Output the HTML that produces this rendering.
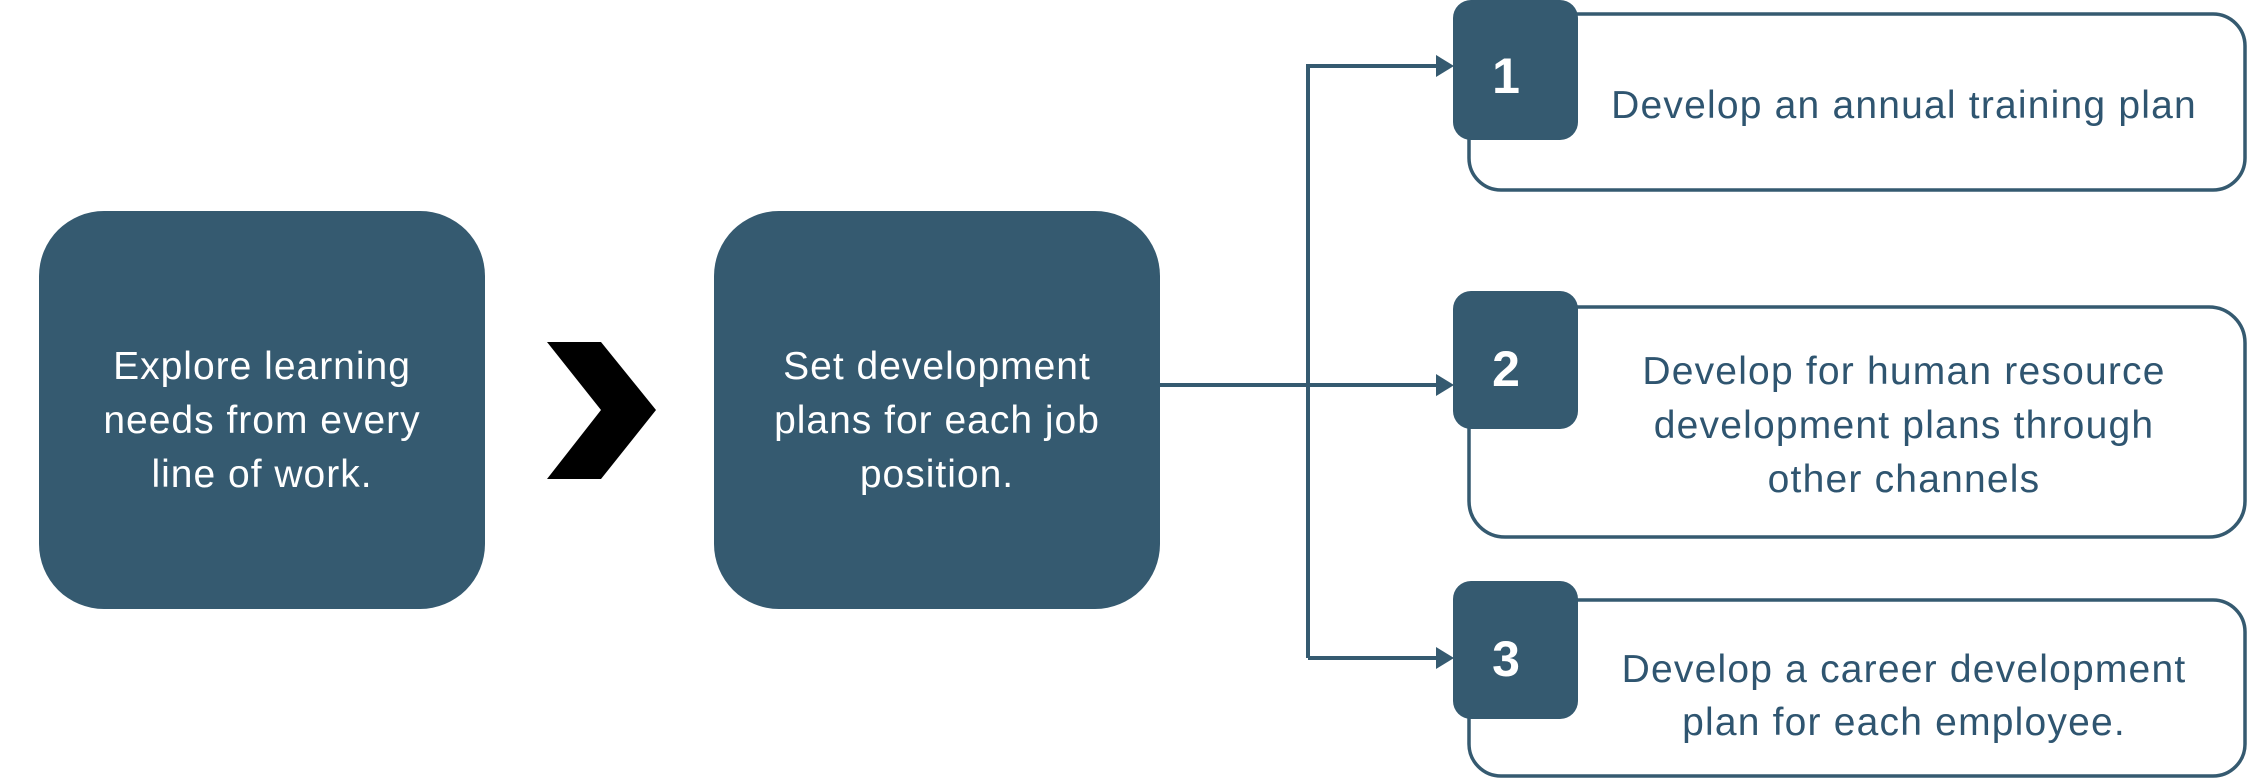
<!DOCTYPE html>
<html><head><style>
html,body{margin:0;padding:0;background:#fff;}
svg{display:block;}
text{font-family:"Liberation Sans",sans-serif;}
</style></head><body>
<svg width="2256" height="782" viewBox="0 0 2256 782" xmlns="http://www.w3.org/2000/svg">
<!-- left boxes -->
<rect x="39" y="211" width="446" height="398" rx="65" fill="#355a70"/>
<rect x="714" y="211" width="446" height="398" rx="65" fill="#355a70"/>
<polygon points="547,342 601,342 656,410 601,479 547,479 601,410" fill="#000"/>
<g fill="#fff" font-size="39" letter-spacing="1" text-anchor="middle">
<text x="262" y="379">Explore learning</text>
<text x="262" y="433">needs from every</text>
<text x="262" y="487">line of work.</text>
<text x="937" y="379">Set development</text>
<text x="937" y="433">plans for each job</text>
<text x="937" y="487">position.</text>
</g>
<!-- connectors -->
<g stroke="#355a70" stroke-width="4" fill="none">
<line x1="1160" y1="385" x2="1440" y2="385"/>
<polyline points="1308,658 1308,66 1440,66"/>
<line x1="1308" y1="658" x2="1440" y2="658"/>
</g>
<g fill="#355a70">
<polygon points="1436,55 1454,66 1436,77"/>
<polygon points="1436,374 1454,385 1436,396"/>
<polygon points="1436,647 1454,658 1436,669"/>
</g>
<!-- outline boxes -->
<g fill="#fff" stroke="#355a70" stroke-width="3.5">
<rect x="1469" y="14" width="776" height="176" rx="32"/>
<rect x="1469" y="307" width="776" height="230" rx="36"/>
<rect x="1469" y="600" width="776" height="176" rx="32"/>
</g>
<g fill="#355a70">
<rect x="1453" y="0" width="125" height="140" rx="18"/>
<rect x="1453" y="291" width="125" height="138" rx="18"/>
<rect x="1453" y="581" width="125" height="138" rx="18"/>
</g>
<g fill="#fff" font-size="50" font-weight="bold" text-anchor="middle">
<text x="1506" y="93">1</text>
<text x="1506" y="386">2</text>
<text x="1506" y="676">3</text>
</g>
<g fill="#2f5570" font-size="39" letter-spacing="1.2" text-anchor="middle">
<text x="1904" y="118">Develop an annual training plan</text>
<text x="1904" y="384">Develop for human resource</text>
<text x="1904" y="438">development plans through</text>
<text x="1904" y="492">other channels</text>
<text x="1904" y="682">Develop a career development</text>
<text x="1904" y="735">plan for each employee.</text>
</g>
</svg>
</body></html>
